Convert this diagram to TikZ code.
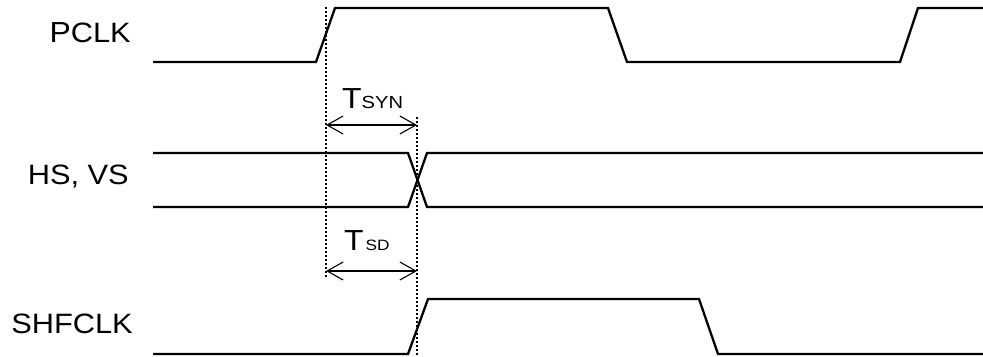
\documentclass[tikz,border=0pt]{standalone}
\usepackage{fontspec}
\setmainfont{Liberation Sans}
\newfontfamily\labfont[FakeStretch=1.1]{Liberation Sans}
\newfontfamily\subfont[FakeStretch=1.15]{Liberation Sans}
\usetikzlibrary{arrows.meta}
\begin{document}
\begin{tikzpicture}[x=1bp,y=-1bp,
  signal/.style={line width=2.3bp,line join=miter},
  marker/.style={line width=1.8bp,dash pattern=on 1.8bp off 2.2bp},
  dim/.style={line width=1.1bp,{Straight Barb[length=16bp,width=18bp,line width=1.1bp]}-{Straight Barb[length=16bp,width=18bp,line width=1.1bp]}},
  sig/.style={anchor=east,inner sep=0pt,font=\labfont\fontsize{28bp}{29bp}\selectfont}]
\useasboundingbox (0,0) rectangle (983,356);
% labels
\node[sig] (pclk) at (131,33) {{\fontsize{29bp}{29bp}\selectfont P}CLK};
\node[sig] (hsvs) at (129,177) {HS, VS};
\node[sig] (shf) at (133,324) {SHFCLK};
% PCLK
\draw[signal] (153,62) -- (316,62) -- (335,8) -- (608,8) -- (627,62) -- (900,62) -- (918,8) -- (983,8);
% HS, VS
\draw[signal] (153,153) -- (408,153) -- (427,207) -- (983,207);
\draw[signal] (153,207) -- (408,207) -- (427,153) -- (983,153);
% SHFCLK
\draw[signal] (153,354) -- (408,354) -- (428,299) -- (699,299) -- (718,354) -- (983,354);
% markers
\coordinate (m1t) at (326,7);
\coordinate (m1b) at (326,278);
\coordinate (m2t) at (417,117);
\coordinate (m2b) at (417,355);
\draw[marker] (m1t) -- (m1b);
\draw[marker] (m2t) -- (m2b);
% dimension arrows
\coordinate (a1l) at (326,125);
\coordinate (a1r) at (417,125);
\coordinate (a2l) at (326,271);
\coordinate (a2r) at (417,271);
\draw[dim] (a1l) -- (a1r);
\draw[dim] (a2l) -- (a2r);
\node[anchor=base west,inner sep=0pt] (tsyn) at (342,108)
  {{\labfont\fontsize{29bp}{29bp}\selectfont T}{\subfont\fontsize{17.5bp}{18bp}\selectfont SYN}};
\node[anchor=base west,inner sep=0pt] (tsd) at (344,250)
  {{\labfont\fontsize{29bp}{29bp}\selectfont T}\hspace{2bp}{\subfont\fontsize{15bp}{15bp}\selectfont SD}};
\end{tikzpicture}
\end{document}
